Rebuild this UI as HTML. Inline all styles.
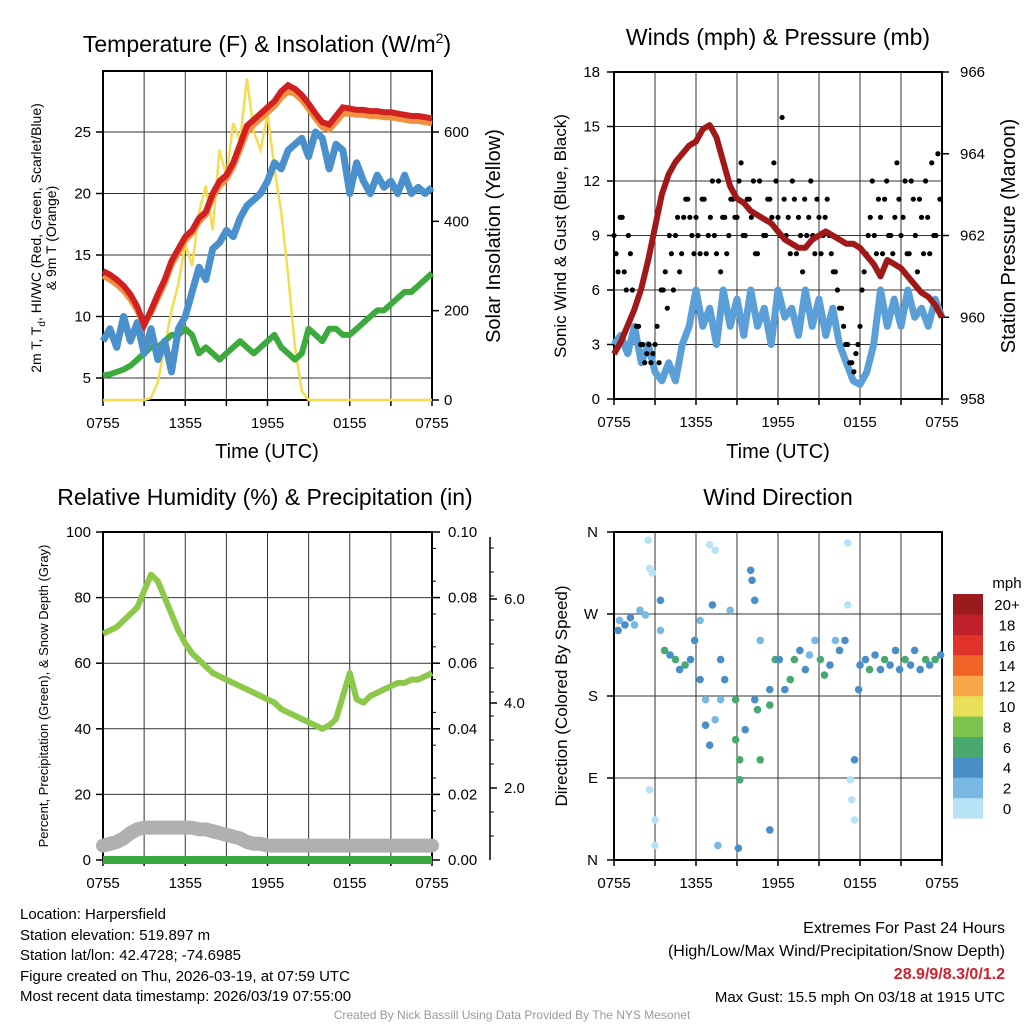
<!DOCTYPE html>
<html><head><meta charset="utf-8"><style>
body{margin:0;background:#fff}
svg{display:block;font-family:"Liberation Sans",Arial,sans-serif}
</style></head><body>
<svg id="c" width="1024" height="1024" viewBox="0 0 1024 1024"></svg>
<script>
// ---- data (t in hours since 0755 UTC, 30-min steps) ----
const xTickLabels = ["0755","1355","1955","0155","0755"];
const temp2m = [13.7,13.4,13.0,12.5,11.8,10.8,9.3,10.5,11.8,13,14.5,15.5,16.5,17,18,18.5,20,21,21.5,22.5,24,25.5,26,26.5,27,27.5,28.3,28.8,28.5,28,27.3,26.5,25.8,25.6,26.3,27,26.9,26.8,26.8,26.7,26.7,26.6,26.6,26.5,26.4,26.3,26.3,26.2,26.1];
const temp9m = [13.3,13.0,12.6,12.1,11.4,10.5,9.4,10.3,11.5,12.7,14.2,15.2,16.2,16.8,17.7,18.3,19.7,20.6,21.2,22.2,23.6,25,25.6,26.1,26.6,27.1,27.8,28.3,28.1,27.6,26.9,26.1,25.4,25.2,25.8,26.5,26.5,26.4,26.4,26.3,26.3,26.2,26.2,26.1,26,25.9,25.9,25.8,25.7];
const dewpt = [8,9,7.5,10,8,9.5,7,9,6.5,8,5.5,9,10,12,14,13,15.5,16,17,16.5,18,19,19.5,20,21,22.5,22,23.5,24,24.5,23,25,24.5,22,24,23.5,20,22.5,21,20,21.5,20.5,21,20,21.5,20,20.5,20,20.5];
const hiwc = [5.2,5.3,5.5,5.7,6,6.5,7,7.5,7.5,8,8.5,8.5,9,8.5,7,7.5,7,6.5,7,7.5,8,7.5,7,7.5,8,8.5,7.5,7,6.5,7,9,8.5,8,9,9,8.5,8.5,9,9.5,10,10.5,10.5,11,11.5,12,12,12.5,13,13.5];
const solar = [0,0,0,0,0,0,0,5,40,120,200,260,350,300,420,480,380,560,500,620,580,720,600,560,640,520,420,280,120,20,0,0,0,0,0,0,0,0,0,0,0,0,0,0,0,0,0,0,0];
const tempTicks = [5,10,15,20,25];
const solarTicks = [0,200,400,600];

const wind = [3,3.5,2.5,4,2,3,1.5,1,2,1,3,4,6,4,5,3,6,4,5.5,3.5,6,4,5,3,6,4.5,5,3.5,6,4,5.5,3.5,5,3,2,1,0.8,1.5,3,6,4,5.5,4,6,4.5,5,4,5.5,4.5];
const pressure = [959.1,959.4,959.8,960.2,960.7,961.4,962.2,963,963.5,963.8,964,964.2,964.3,964.6,964.7,964.4,963.8,963.2,962.9,962.8,962.6,962.5,962.4,962.3,962.1,961.9,961.8,961.7,961.7,961.9,962,962.1,962,961.9,961.8,961.8,961.7,961.5,961.3,961,961.4,961.3,961.2,961,960.8,960.6,960.5,960.3,960.0];
const gustA = [9,7,10,6,8,5,4,3,2.5,2, 3,2,6,5,8,9,7,10,11,9, 10,8,11,9,12,8,7,10,9,11, 10,13,9,11,12,8,10,9,11,13, 10,15.5,9,8,11,10,7,9,12,8, 10,9,11,8,7,5,4,3,2,2.5, 4,7,9,12,8,10,11,9,8,13, 9,12,8,11,7,10,12,8,9,13.5];
const gustB = [8,10,7,9,6,4,3,2,3,2.5, 4,6,7,9,6,10,8,11,10,8, 9,11,8,10,9,12,10,8,11,10, 12,9,11,10,8,12,9,11,10,12, 9,11,10,12,8,9,11,10,9,11, 8,10,9,7,6,5,3,2,1.5,3, 6,8,10,9,11,8,12,9,10,11, 10,8,12,9,11,8,10,13,9,11];
const windTicks = [0,3,6,9,12,15,18];
const presTicks = [958,960,962,964,966];

const rh = [69,70,71,73,75,77,82,87,85,80,75, 70,66,63,61,59,57,56,55,54,53, 52,51,50,49,48,46,45,44,43,42, 41,40,41,43,50,57,49,48,50,51, 52,53,54,54,55,55,56,57];
const snow = [0.4,0.45,0.5,0.6,0.75,0.85,0.9,0.9,0.9,0.9,0.9,0.9,0.9,0.9,0.85,0.85,0.8,0.75,0.7,0.65,0.6,0.5,0.45,0.45,0.4,0.4,0.4,0.4,0.4,0.4,0.4,0.4,0.4,0.4,0.4,0.4,0.4,0.4,0.4,0.4,0.4,0.4,0.4,0.4,0.4,0.4,0.4,0.4,0.4];
const precip = [0,0,0,0,0,0,0,0,0,0,0,0,0,0,0,0,0,0,0,0,0,0,0,0,0,0,0,0,0,0,0,0,0,0,0,0,0,0,0,0,0,0,0,0,0,0,0,0,0];
const rhTicks = [0,20,40,60,80,100];
const precipTicks = ["0.00","0.02","0.04","0.06","0.08","0.10"];

const dirHours = [0.4,0.8,1.2,1.5,1.9,0.3,2.3,2.6,2.8,2.5,3.0,3.0,2.6,3.4,3.7,3.4,4.1,4.5,4.8,5.2,5.6,5.9,6.3,6.3,6.7,7.0,7.4,7.2,6.7,7.0,7.4,7.8,7.6,7.8,8.1,8.5,8.9,8.9,9.2,9.1,9.2,9.6,10.0,10.1,10.3,10.3,10.5,10.7,10.7,11.4,11.4,11.8,12.1,12.5,12.9,13.2,13.6,14.0,14.3,14.7,15.1,15.4,15.8,16.2,16.5,16.9,17.1,17.1,17.3,17.4,17.6,17.6,17.9,18.0,18.4,18.7,19.1,19.5,19.8,20.2,20.6,20.9,21.3,21.7,22.0,22.4,22.8,23.1,23.5,23.9,11.4];
const dirDeg = [263,258,266,258,274,252,269,320,315,351,44,16,77,285,230,252,225,220,209,214,220,241,263,198,176,346,340,280,148,126,154,176,16,220,198,274,176,132,110,13,88,143,318,307,285,176,165,241,110,187,33,220,220,187,198,220,230,209,225,241,220,203,214,241,230,241,348,280,88,66,110,44,187,214,220,209,225,209,220,214,230,209,220,214,230,209,220,214,220,225,170];
const dirSpeed = [3,5,5,3,3,5,3,1,1,1,1,1,1,5,7,3,5,7,5,7,5,5,3,5,3,1,1,5,5,5,3,3,3,5,5,3,7,7,7,5,7,5,5,5,5,5,7,3,7,5,5,7,5,5,7,7,5,5,3,3,7,7,5,3,5,5,1,1,1,1,5,1,5,5,5,7,5,5,7,5,5,5,7,5,5,5,7,5,7,5,7];
const dirTicks = ["N","W","S","E","N"];
const speedBins = ["0","2","4","6","8","10","12","14","16","18","20+"];
const speedColors = ["#b8e2f6","#7ab8e4","#4a8ec8","#48a870","#7cc24e","#e8e058","#f8a848","#f06428","#e03228","#c0202a","#9a1a1e"];

// ---- helpers ----
const NS="http://www.w3.org/2000/svg", svg=document.getElementById('c');
function mk(tag,attrs,parent){const e=document.createElementNS(NS,tag);for(const k in attrs)e.setAttribute(k,attrs[k]);(parent||svg).appendChild(e);return e;}
function txt(s,x,y,size,anchor,parent,extra){const e=mk('text',Object.assign({x:x,y:y,'font-size':size,'text-anchor':anchor||'middle',fill:'#000'},extra||{}),parent);e.textContent=s;return e;}
function lin(d0,d1,r0,r1){return v=>r0+(v-d0)*(r1-r0)/(d1-d0);}
function pathOf(arr,xs,ys,step){return arr.map((v,i)=>(i?'L':'M')+xs(i*step).toFixed(1)+','+ys(v).toFixed(1)).join('');}

function frame(g,L,T,R,B,xs){
  for(let h=3;h<24;h+=3){mk('line',{x1:xs(h),x2:xs(h),y1:T,y2:B,stroke:'#333','stroke-width':1},g);}
  mk('rect',{x:L,y:T,width:R-L,height:B-T,fill:'none',stroke:'#000','stroke-width':2},g);
  for(let h=0;h<=24;h+=3){mk('line',{x1:xs(h),x2:xs(h),y1:B,y2:B+6,stroke:'#000','stroke-width':1.5},g);}
  xTickLabels.forEach((s,i)=>{const t=txt(s,xs(i*6),B+28,15,'middle',g);});
}

// ===== Panel 1 =====
(function(){
  const g=mk('g',{});  
  const L=103,R=432,T=71,B=400;
  const xs=lin(0,24,L,R), ys=lin(5,25,378,132), ss=lin(0,600,400,132);
  tempTicks.forEach(v=>{mk('line',{x1:L,x2:R,y1:ys(v),y2:ys(v),stroke:'#333','stroke-width':1},g);mk('line',{x1:L-7,x2:L,y1:ys(v),y2:ys(v),stroke:'#000','stroke-width':1.5},g);const t=txt(String(v),L-12,ys(v)+5,15,'end',g);});
  solarTicks.forEach(v=>{mk('line',{x1:R,x2:R+7,y1:ss(v),y2:ss(v),stroke:'#000','stroke-width':1.5},g);const t=txt(String(v),R+12,ss(v)+5,15,'start',g);});
  frame(g,L,T,R,B,xs);
  const p1=mk('path',{d:pathOf(solar,xs,ss,0.5),fill:'none',stroke:'#f6dc50','stroke-width':2.5},g);  
  const p2=mk('path',{d:pathOf(hiwc,xs,ys,0.5),fill:'none',stroke:'#3daa3d','stroke-width':6,'stroke-linejoin':'round'},g);  
  const p3=mk('path',{d:pathOf(dewpt,xs,ys,0.5),fill:'none',stroke:'#4a90cc','stroke-width':7,'stroke-linejoin':'round'},g);  
  const p4=mk('path',{d:pathOf(temp9m,xs,ys,0.5),fill:'none',stroke:'#f29040','stroke-width':6},g);  
  const p5=mk('path',{d:pathOf(temp2m,xs,ys,0.5),fill:'none',stroke:'#d02020','stroke-width':6},g);  
  const tt=txt('',267,52,23,'middle',g);  
  tt.innerHTML='Temperature (F) &amp; Insolation (W/m<tspan dy="-9" font-size="14">2</tspan><tspan dy="9">)</tspan>';
  const xl=txt('Time (UTC)',267,458,20,'middle',g);  
  const yl=txt('',0,0,14,'middle',g,{transform:'translate(41,238) rotate(-90)'});  
  yl.innerHTML='2m T, T<tspan dy="4" font-size="10">d</tspan><tspan dy="-4">, HI/WC (Red, Green, Scarlet/Blue)</tspan>';
  const yl2=txt('& 9m T (Orange)',0,0,14,'middle',g,{transform:'translate(56,238) rotate(-90)'});  
  const yr=txt('Solar Insolation (Yellow)',0,0,20,'middle',g,{transform:'translate(500,236) rotate(-90)'});  
})();

// ===== Panel 2 =====
(function(){
  const g=mk('g',{});  
  const L=614,R=942,T=72,B=399;
  const xs=lin(0,24,L,R), ys=lin(0,18,B,T), ps=lin(958,966,B,T);
  windTicks.forEach(v=>{mk('line',{x1:L,x2:R,y1:ys(v),y2:ys(v),stroke:'#333','stroke-width':1},g);mk('line',{x1:L-7,x2:L,y1:ys(v),y2:ys(v),stroke:'#000','stroke-width':1.5},g);const t=txt(String(v),L-14,ys(v)+5,15,'end',g);});
  presTicks.forEach(v=>{mk('line',{x1:R,x2:R+7,y1:ps(v),y2:ps(v),stroke:'#000','stroke-width':1.5},g);const t=txt(String(v),R+18,ps(v)+5,15,'start',g);});
  frame(g,L,T,R,B,xs);
  const w=mk('path',{d:pathOf(wind,xs,ys,0.5),fill:'none',stroke:'#5a9fd8','stroke-width':7,'stroke-linejoin':'round'},g);  
  gustA.forEach((v,i)=>{const c=mk('circle',{cx:xs(i*0.3),cy:ys(v),r:2.6,fill:'#000'},g);});
  gustB.forEach((v,i)=>{const c=mk('circle',{cx:xs(i*0.3+0.15),cy:ys(v),r:2.6,fill:'#000'},g);});
  const p=mk('path',{d:pathOf(pressure,xs,ps,0.5),fill:'none',stroke:'#a01818','stroke-width':6,'stroke-linejoin':'round'},g);  
  const tt=txt('Winds (mph) & Pressure (mb)',778,45,23,'middle',g);  
  const xl=txt('Time (UTC)',778,458,20,'middle',g);  
  const yl=txt('Sonic Wind & Gust (Blue, Black)',0,0,17,'middle',g,{transform:'translate(566,236) rotate(-90)'});  
  const yr=txt('Station Pressure (Maroon)',0,0,20,'middle',g,{transform:'translate(1015,236) rotate(-90)'});  
})();

// ===== Panel 3 =====
(function(){
  const g=mk('g',{});  
  const L=103,R=432,T=532,B=860;
  const xs=lin(0,24,L,R), ys=lin(0,100,B,T), sn=lin(0,2,B,788);
  rhTicks.forEach((v,i)=>{mk('line',{x1:L,x2:R,y1:ys(v),y2:ys(v),stroke:'#333','stroke-width':1},g);mk('line',{x1:L-7,x2:L,y1:ys(v),y2:ys(v),stroke:'#000','stroke-width':1.5},g);const t=txt(String(v),L-12,ys(v)+5,15,'end',g);
    mk('line',{x1:R,x2:R+8,y1:ys(v),y2:ys(v),stroke:'#000','stroke-width':1.5},g);const t2=txt(precipTicks[i],R+16,ys(v)+5,15,'start',g);});
  for(let v=5;v<100;v+=10){mk('line',{x1:R,x2:R+4,y1:ys(v),y2:ys(v),stroke:'#000','stroke-width':1},g);}
  frame(g,L,T,R,B,xs);
  mk('line',{x1:490,x2:490,y1:537,y2:860,stroke:'#000','stroke-width':1.5},g);
  for(let y=548;y<860;y+=24){mk('line',{x1:490,x2:494,y1:y,y2:y,stroke:'#000','stroke-width':1},g);}
  [["2.0",788],["4.0",703],["6.0",599]].forEach(a=>{mk('line',{x1:490,x2:497,y1:a[1],y2:a[1],stroke:'#000','stroke-width':1.5},g);const t=txt(a[0],504,a[1]+5,15,'start',g);});
  const sp=mk('path',{d:pathOf(snow,xs,sn,0.5),fill:'none',stroke:'#b0b0b0','stroke-width':14,'stroke-linecap':'round','stroke-linejoin':'round'},g);  
  const pp=mk('path',{d:pathOf(precip,xs,lin(0,0.1,B,T),0.5),fill:'none',stroke:'#3aaa40','stroke-width':8},g);  
  const rp=mk('path',{d:pathOf(rh,xs,ys,0.5),fill:'none',stroke:'#8cc84a','stroke-width':6,'stroke-linejoin':'round'},g);  
  const tt=txt('Relative Humidity (%) & Precipitation (in)',265,505,23,'middle',g);  
  const yl=txt('Percent, Precipitation (Green), & Snow Depth (Gray)',0,0,13,'middle',g,{transform:'translate(48,696) rotate(-90)'});  
})();

// ===== Panel 4 =====
(function(){
  const g=mk('g',{});  
  const L=614,R=942,T=532,B=860;
  const xs=lin(0,24,L,R), ys=lin(0,360,B,T);
  dirTicks.forEach((s,i)=>{const v=360-i*90;mk('line',{x1:L,x2:R,y1:ys(v),y2:ys(v),stroke:'#333','stroke-width':1},g);mk('line',{x1:L-7,x2:L,y1:ys(v),y2:ys(v),stroke:'#000','stroke-width':1.5},g);const t=txt(s,L-16,ys(v)+5,15,'end',g);});
  frame(g,L,T,R,B,xs);
  dirHours.forEach((h,i)=>{const bin=Math.min(10,Math.floor(dirSpeed[i]/2));const c=mk('circle',{cx:xs(h),cy:ys(dirDeg[i]),r:3.8,fill:speedColors[bin]},g);});
  const lg=mk('g',{},g);  
  const un=txt('mph',1007,588,15,'middle',lg);  
  speedBins.forEach((s,i)=>{const y=594+(10-i)*20.4;const r=mk('rect',{x:953,y:y,width:30,height:20.6,fill:speedColors[i]},lg);const t=txt(s,1007,y+16,15,'middle',lg);});
  const tt=txt('Wind Direction',778,505,23,'middle',g);  
  const yl=txt('Direction (Colored By Speed)',0,0,17,'middle',g,{transform:'translate(567,696) rotate(-90)'});  
})();
</script>
<div style="position:absolute;left:0;top:0;width:1024px;height:1024px;pointer-events:none;font-family:'Liberation Sans',Arial,sans-serif">
  <div style="position:absolute;left:20px;top:905px;font-size:15px;line-height:20.5px;color:#000">
    <div>Location: Harpersfield</div>
    <div>Station elevation: 519.897 m</div>
    <div>Station lat/lon: 42.4728; -74.6985</div>
    <div>Figure created on Thu, 2026-03-19, at 07:59 UTC</div>
    <div>Most recent data timestamp: 2026/03/19 07:55:00</div>
  </div>
  <div style="position:absolute;right:19px;top:917px;text-align:right;font-size:16px;line-height:23px;color:#000">
    <div>Extremes For Past 24 Hours</div>
    <div>(High/Low/Max Wind/Precipitation/Snow Depth)</div>
    <div style="color:#d0202a;font-weight:bold">28.9/9/8.3/0/1.2</div>
    <div style="font-size:15px">Max Gust: 15.5 mph On 03/18 at 1915 UTC</div>
  </div>
  <div style="position:absolute;left:0;width:1024px;top:1008px;text-align:center;font-size:12px;color:#999">Created By Nick Bassill Using Data Provided By The NYS Mesonet</div>
</div>
</body></html>
